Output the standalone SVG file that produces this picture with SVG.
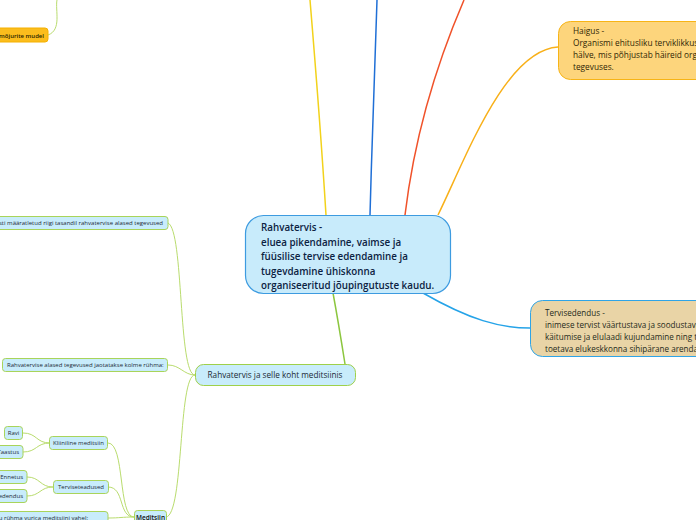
<svg xmlns="http://www.w3.org/2000/svg" width="696" height="520" viewBox="0 0 696 520">
<style>
text{font-family:"Open Sans","Noto Sans","DejaVu Sans",sans-serif}
.c{fill:none;stroke-width:1.5}
.g{fill:none;stroke:#b9dc6e;stroke-width:1}
.sub{fill:#c8ecfb;stroke:#a9d45a;stroke-width:1}
.st{font-size:6px;fill:#1c2a36}
.mt{font-size:9.8px;fill:#0c2242;font-weight:600}
.ht{font-size:8.3px;fill:#2f2505;font-weight:500}
.tt{font-size:8.1px;fill:#1e2a1a;font-weight:500}
</style>
<rect width="696" height="520" fill="#ffffff"/>
<g id="connectors">
<path class="c" d="M326,215 C322,150 315,60 310,0" stroke="#f2d21b"/>
<path class="c" d="M370,215 C372,140 375,60 377,0" stroke="#1f6fd6"/>
<path class="c" d="M405,215 C414,140 436,65 464,0" stroke="#f0522a"/>
<path class="c" d="M438,215 C465,160 505,50 558,47" stroke="#f8b019"/>
<path class="c" d="M423,293 C470,320 500,328 530,328" stroke="#25a3e8"/>
<path class="c" d="M333,293 C338,320 342,345 345,364" stroke="#8cc63f"/>
<path class="g" d="M48,35 C62,30 55,10 57,0" stroke="#f5e58f"/>
<path class="g" d="M195,375 C178,375 184,230 168,223"/>
<path class="g" d="M195,375 C184,375 180,365 168,365"/>
<path class="g" d="M195,375 C178,375 184,515 166,517"/>
<path class="g" d="M23,433 C37,433 36,443 50,443"/>
<path class="g" d="M23,452 C37,452 36,443 50,443"/>
<path class="g" d="M108,443 C125,443 118,517 134,517"/>
<path class="g" d="M27,477 C40,477 40,487 53,487"/>
<path class="g" d="M27,496 C40,496 40,487 53,487"/>
<path class="g" d="M108,487 C125,487 118,517 134,517"/>
<path class="g" d="M108,518 C120,518 122,517 134,517"/>
</g>
<g id="central">
<rect x="245.5" y="215.5" width="205" height="78" rx="18" fill="#c8ebfb" stroke="#3d9be0" stroke-width="1.2"/>
<text class="mt" x="261" y="231">Rahvatervis -</text>
<text class="mt" x="261" y="245.5">eluea pikendamine, vaimse ja</text>
<text class="mt" x="261" y="260">füüsilise tervise edendamine ja</text>
<text class="mt" x="261" y="274.5">tugevdamine ühiskonna</text>
<text class="mt" x="261" y="289">organiseeritud jõupingutuste kaudu.</text>
</g>
<g id="haigus">
<rect x="558.5" y="21.5" width="160" height="58" rx="12" fill="#fdd57c" stroke="#f7b416" stroke-width="1"/>
<text class="ht" x="573" y="34">Haigus -</text>
<text class="ht" x="573" y="46">Organismi ehitusliku terviklikkuse</text>
<text class="ht" x="573" y="58">hälve, mis põhjustab häireid organismi</text>
<text class="ht" x="573" y="70">tegevuses.</text>
</g>
<g id="tervisedendus">
<rect x="530.5" y="300.5" width="200" height="56" rx="12" fill="#e9d4a6" stroke="#2fa4e6" stroke-width="1"/>
<text class="tt" x="545" y="316">Tervisedendus -</text>
<text class="tt" x="545" y="328">inimese tervist väärtustava ja soodustava</text>
<text class="tt" x="545" y="340">käitumise ja elulaadi kujundamine ning tervist</text>
<text class="tt" x="545" y="352">toetava elukeskkonna sihipärane arendamine.</text>
</g>
<g id="mudel">
<rect x="-20" y="28" width="68" height="14" rx="3" fill="#fbbd1d" stroke="#f5b000" stroke-width="1"/>
<text x="44" y="37.5" text-anchor="end" style="font-size:6px;fill:#2a1e00;font-weight:600">Tervisemõjurite mudel</text>
</g>
<g id="meditsiinis">
<rect x="195.5" y="364.5" width="160" height="21" rx="8" fill="#c8ecfb" stroke="#9fd04a" stroke-width="1"/>
<text x="275" y="378" text-anchor="middle" style="font-size:8.2px;fill:#1c2a36;font-weight:500">Rahvatervis ja selle koht meditsiinis</text>
</g>
<g id="tasandil">
<rect class="sub" x="-30" y="216.5" width="198" height="13" rx="3"/>
<text class="st" x="163" y="225.2" text-anchor="end">Seadustega selgesti määratletud riigi tasandil rahvatervise alased tegevused</text>
</g>
<g id="ruhma">
<rect class="sub" x="2.5" y="358.5" width="165" height="13" rx="3"/>
<text class="st" x="7" y="367.2">Rahvatervise alased tegevused jaotatakse kolme rühma:</text>
</g>
<g id="ravi">
<rect class="sub" x="4.5" y="426.5" width="18" height="13" rx="3"/>
<text class="st" x="13.5" y="435.2" text-anchor="middle">Ravi</text>
</g>
<g id="taastus">
<rect class="sub" x="-20" y="445.5" width="43" height="13" rx="3"/>
<text class="st" x="19" y="454.2" text-anchor="end">Taastus</text>
</g>
<g id="kliiniline">
<rect class="sub" x="49.5" y="436.5" width="58" height="13" rx="3"/>
<text class="st" x="78.5" y="445.2" text-anchor="middle">Kliiniline meditsiin</text>
</g>
<g id="ennetus">
<rect class="sub" x="-20" y="470.5" width="47" height="13" rx="3"/>
<text class="st" x="23" y="479.2" text-anchor="end">Ennetus</text>
</g>
<g id="edendus">
<rect class="sub" x="-30" y="489.5" width="57" height="13" rx="3"/>
<text class="st" x="23" y="498.2" text-anchor="end">Tervisedendus</text>
</g>
<g id="teadused">
<rect class="sub" x="53.5" y="480.5" width="55" height="13" rx="3"/>
<text class="st" x="81" y="489.2" text-anchor="middle">Terviseteadused</text>
</g>
<g id="vahel">
<rect class="sub" x="-30" y="511.5" width="138" height="13" rx="3"/>
<text class="st" x="88" y="520.2" text-anchor="end">Seos kolmandu rühma vurica meditsiini vahel:</text>
</g>
<g id="meditsiin">
<rect class="sub" x="134.5" y="510.5" width="32" height="14" rx="3"/>
<text x="150.5" y="520" text-anchor="middle" style="font-size:6.5px;fill:#111;font-weight:600">Meditsiin</text>
</g>
</svg>
